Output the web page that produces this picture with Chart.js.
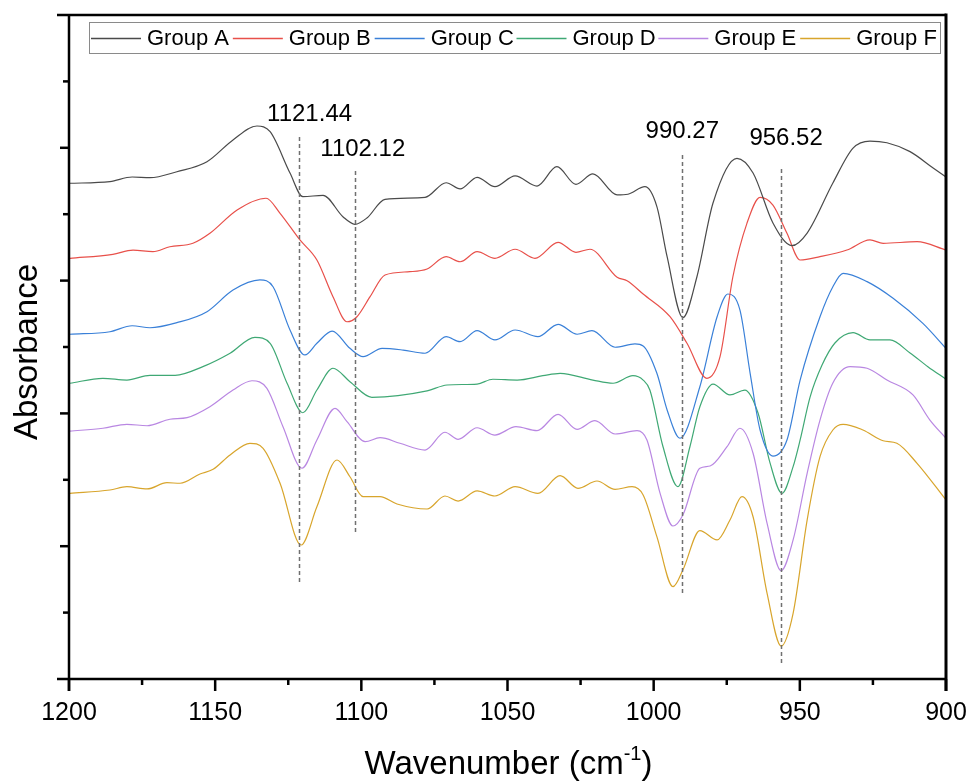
<!DOCTYPE html>
<html>
<head>
<meta charset="utf-8">
<script src="https://cdn.jsdelivr.net/npm/chart.js@4/dist/chart.umd.min.js"></script>
<style>
  html, body { margin: 0; padding: 0; background: #fff; }
  #wrap { width: 969px; height: 781px; position: relative; }
</style>
</head>
<body>
<div id="wrap"><canvas id="c" width="969" height="781"></canvas></div>
<script>
// ---------------- DATA ----------------
const seriesNames = ['Group A', 'Group B', 'Group C', 'Group D', 'Group E', 'Group F'];

const wnA = [1200.0,1186.0,1178.4,1172.3,1163.1,1152.8,1143.9,1135.7,1131.2,1124.4,1120.0,1113.1,1106.3,1102.2,1098.1,1091.9,1078.2,1071.0,1066.2,1060.4,1054.3,1047.4,1039.9,1033.1,1026.6,1020.8,1012.5,1008.8,1003.0,998.9,995.4,990.0,985.2,979.7,971.5,966.0,959.2,952.7,947.5,938.7,931.8,926.0,920.2,912.3,904.4,900.0];
const absA = [3.733,3.745,3.780,3.775,3.820,3.895,4.059,4.164,4.121,3.810,3.632,3.642,3.481,3.424,3.471,3.612,3.627,3.737,3.690,3.778,3.707,3.788,3.712,3.858,3.725,3.803,3.645,3.650,3.707,3.557,3.180,2.721,3.029,3.584,3.921,3.810,3.434,3.263,3.358,3.735,3.998,4.051,4.038,3.971,3.848,3.780];

const wnB = [1199.7,1185.0,1178.1,1171.3,1165.5,1157.6,1151.8,1142.5,1132.6,1127.8,1121.0,1115.2,1109.7,1104.9,1101.5,1097.0,1091.9,1083.4,1077.5,1071.0,1066.2,1060.4,1054.3,1047.4,1040.6,1032.7,1026.6,1021.8,1012.5,1009.1,1003.6,994.4,988.6,981.8,977.3,972.9,968.1,963.6,959.2,954.4,949.9,943.1,933.9,926.0,921.5,909.9,900.0];
const absB = [3.168,3.198,3.230,3.218,3.255,3.281,3.356,3.532,3.620,3.507,3.306,3.155,2.879,2.690,2.728,2.879,3.042,3.067,3.087,3.180,3.142,3.218,3.168,3.236,3.168,3.288,3.213,3.236,3.025,2.999,2.899,2.728,2.528,2.264,2.427,3.029,3.431,3.627,3.569,3.356,3.155,3.180,3.230,3.306,3.281,3.293,3.230];

const wnC = [1199.7,1186.0,1178.4,1172.3,1163.1,1152.8,1143.9,1134.7,1130.2,1124.4,1119.3,1115.2,1110.0,1103.9,1099.4,1092.9,1085.7,1078.2,1071.0,1066.2,1060.4,1054.3,1047.4,1039.6,1032.7,1026.2,1021.1,1013.2,1006.4,1003.6,998.9,995.4,991.0,984.2,978.3,974.6,970.5,967.0,963.6,959.2,954.4,949.9,943.1,938.7,935.2,927.0,918.1,907.9,900.0];
const absC = [2.596,2.615,2.660,2.645,2.683,2.766,2.929,3.005,2.954,2.628,2.440,2.528,2.620,2.490,2.427,2.490,2.477,2.453,2.578,2.540,2.623,2.553,2.628,2.578,2.671,2.596,2.623,2.498,2.523,2.508,2.302,2.026,1.813,2.201,2.728,2.899,2.779,2.302,1.875,1.679,1.800,2.251,2.728,2.954,3.055,2.992,2.867,2.678,2.490];

const wnD = [1199.7,1188.4,1180.2,1172.3,1163.7,1154.2,1144.9,1136.4,1131.2,1125.4,1120.0,1115.2,1109.7,1103.9,1096.4,1077.5,1070.7,1060.4,1055.0,1046.7,1037.9,1032.0,1020.8,1013.9,1007.1,1003.6,1001.3,996.8,991.7,987.6,984.2,979.7,973.9,968.8,964.3,960.2,956.1,952.3,949.9,946.5,942.4,938.0,931.8,926.0,919.2,912.3,906.2,900.0];
const absD = [2.227,2.264,2.251,2.287,2.287,2.352,2.453,2.573,2.528,2.227,2.005,2.176,2.340,2.239,2.121,2.169,2.214,2.221,2.257,2.251,2.284,2.302,2.251,2.227,2.284,2.251,2.176,1.749,1.448,1.749,2.050,2.221,2.139,2.176,2.003,1.627,1.398,1.599,1.800,2.123,2.364,2.530,2.608,2.553,2.553,2.455,2.352,2.257];

const wnE = [1199.7,1188.4,1180.2,1173.3,1165.5,1159.6,1151.8,1143.9,1137.4,1132.3,1126.8,1120.3,1115.2,1109.0,1104.9,1098.7,1093.6,1086.8,1078.2,1071.4,1066.9,1060.4,1054.3,1047.1,1039.9,1032.7,1026.2,1020.1,1013.2,1005.7,1002.3,997.8,993.4,990.0,984.2,980.7,974.9,970.5,966.0,961.2,956.4,952.3,947.5,943.1,938.7,932.8,927.0,920.2,911.3,905.5,900.0];
const absE = [1.867,1.888,1.918,1.907,1.956,1.968,2.050,2.176,2.246,2.189,1.900,1.587,1.800,2.038,1.938,1.787,1.817,1.775,1.724,1.858,1.805,1.892,1.837,1.900,1.870,1.993,1.880,1.945,1.845,1.870,1.800,1.398,1.152,1.235,1.587,1.604,1.749,1.888,1.700,1.172,0.816,1.047,1.549,1.950,2.229,2.352,2.340,2.251,2.139,1.950,1.813];

const wnF = [1199.7,1186.0,1180.2,1173.3,1166.5,1162.0,1155.2,1150.7,1144.9,1138.1,1133.6,1127.8,1120.6,1115.2,1108.3,1103.9,1099.4,1093.6,1087.8,1077.5,1071.4,1066.9,1060.4,1054.3,1047.4,1039.6,1032.0,1025.9,1019.4,1013.2,1007.4,1003.6,998.9,993.4,990.0,984.2,978.3,973.9,969.8,966.0,961.2,956.4,952.3,947.5,943.1,938.7,935.2,928.4,921.5,916.8,909.9,900.0];
const absF = [1.398,1.423,1.448,1.431,1.478,1.474,1.544,1.579,1.687,1.775,1.737,1.474,1.009,1.297,1.649,1.523,1.373,1.373,1.318,1.280,1.378,1.340,1.416,1.378,1.448,1.398,1.531,1.436,1.491,1.428,1.448,1.386,1.072,0.695,0.821,1.117,1.047,1.197,1.373,1.222,0.645,0.248,0.495,1.197,1.674,1.875,1.918,1.875,1.794,1.775,1.624,1.348];

const xTickValues = [1200, 1150, 1100, 1050, 1000, 950, 900];
const peakPositions = [1121.44, 1102.12, 990.27, 956.52];
const peakLabels = ['1121.44', '1102.12', '990.27', '956.52'];

// ---------------- STYLE / LAYOUT ----------------
const colors = ['#4a4a4a', '#e8504a', '#3a80d8', '#3fa874', '#b987e2', '#d8a52c'];
const FONT = '"Liberation Sans", Arial, sans-serif';
// vertical extents of marker lines and label baselines (y-axis units)
const peakLineTop = [4.081, 3.825, 3.946, 3.840];
const peakLineBottom = [0.723, 1.092, 0.648, 0.105];
const peakLabelBase = [4.202, 3.938, 4.076, 4.021];
const peakLabelX = [1117.7, 1099.5, 990.2, 954.7];

function toPoints(xs, ys) { return xs.map((x, i) => ({ x: x, y: ys[i] })); }
const allX = [wnA, wnB, wnC, wnD, wnE, wnF];
const allY = [absA, absB, absC, absD, absE, absF];

const datasets = seriesNames.map((name, i) => ({
  label: name,
  data: toPoints(allX[i], allY[i]),
  borderColor: colors[i],
  backgroundColor: colors[i],
  borderWidth: 1.2,
  pointRadius: 0,
  cubicInterpolationMode: 'monotone',
  fill: false
}));

const decorPlugin = {
  id: 'decor',
  afterDatasetsDraw(chart) {
    const ctx = chart.ctx;
    const xs = chart.scales.x, ys = chart.scales.y;
    const a = chart.chartArea;
    ctx.save();

    // peak marker lines
    ctx.strokeStyle = '#707070';
    ctx.lineWidth = 1.5;
    ctx.setLineDash([4, 3]);
    peakPositions.forEach((p, i) => {
      const x = Math.round(xs.getPixelForValue(p)) + 0.5;
      ctx.beginPath();
      ctx.moveTo(x, ys.getPixelForValue(peakLineTop[i]));
      ctx.lineTo(x, ys.getPixelForValue(peakLineBottom[i]));
      ctx.stroke();
    });
    ctx.setLineDash([]);

    // peak labels
    ctx.fillStyle = '#000';
    ctx.font = '24px ' + FONT;
    ctx.textAlign = 'center';
    ctx.textBaseline = 'alphabetic';
    peakLabels.forEach((t, i) => {
      ctx.fillText(t, xs.getPixelForValue(peakLabelX[i]), ys.getPixelForValue(peakLabelBase[i]));
    });

    // frame
    ctx.strokeStyle = '#000';
    ctx.lineWidth = 2.5;
    ctx.beginPath();
    ctx.moveTo(a.left - 12, a.top); ctx.lineTo(a.right, a.top);
    ctx.moveTo(a.left - 12, a.bottom); ctx.lineTo(a.right, a.bottom);
    ctx.moveTo(a.left, a.top); ctx.lineTo(a.left, a.bottom + 12);
    ctx.stroke();
    ctx.lineWidth = 3;
    ctx.beginPath();
    ctx.moveTo(a.right, a.top - 1.5); ctx.lineTo(a.right, a.bottom + 12);
    ctx.stroke();

    // y ticks (major every 1, minor every 0.5)
    ctx.lineWidth = 2.5;
    for (let v = 0.5; v < 5; v += 0.5) {
      const y = ys.getPixelForValue(v);
      const len = (Math.abs(v - Math.round(v)) < 1e-6) ? 9 : 6;
      ctx.beginPath();
      ctx.moveTo(a.left - len, y); ctx.lineTo(a.left, y);
      ctx.stroke();
    }
    // x ticks (major every 50, minor every 25)
    for (let v = 900; v <= 1200; v += 25) {
      const x = xs.getPixelForValue(v);
      const len = (v % 50 === 0) ? 12 : 6;
      ctx.beginPath();
      ctx.moveTo(x, a.bottom); ctx.lineTo(x, a.bottom + len);
      ctx.stroke();
    }

    // legend
    const lx0 = 89, lx1 = 940, ly0 = 22, ly1 = 53;
    ctx.fillStyle = '#fff';
    ctx.fillRect(lx0, ly0, lx1 - lx0, ly1 - ly0);
    ctx.strokeStyle = '#8a8a8a';
    ctx.lineWidth = 1;
    ctx.strokeRect(lx0 + 0.5, ly0 + 0.5, lx1 - lx0, ly1 - ly0);
    ctx.font = '22px ' + FONT;
    ctx.textAlign = 'left';
    ctx.textBaseline = 'middle';
    const itemW = (lx1 - lx0) / seriesNames.length;
    const ly = (ly0 + ly1) / 2 + 1;
    chart.data.datasets.forEach((ds, i) => {
      const bx = lx0 + 2 + i * itemW;
      ctx.strokeStyle = colors[i];
      ctx.lineWidth = 1.6;
      ctx.beginPath();
      ctx.moveTo(bx, Math.round(ly) - 0.5); ctx.lineTo(bx + 50, Math.round(ly) - 0.5);
      ctx.stroke();
      ctx.fillStyle = '#000';
      ctx.fillText(ds.label, bx + 56, ly);
    });

    // axis titles
    ctx.fillStyle = '#000';
    ctx.font = '33px ' + FONT;
    ctx.save();
    ctx.translate(37, (a.top + a.bottom) / 2 + 5);
    ctx.rotate(-Math.PI / 2);
    ctx.textAlign = 'center';
    ctx.textBaseline = 'alphabetic';
    ctx.fillText('Absorbance', 0, 0);
    ctx.restore();

    const t1 = 'Wavenumber (cm', t2 = '-1', t3 = ')';
    ctx.font = '33px ' + FONT;
    const w1 = ctx.measureText(t1).width;
    const w3 = ctx.measureText(t3).width;
    ctx.font = '20px ' + FONT;
    const w2 = ctx.measureText(t2).width;
    const total = w1 + w2 + w3;
    const cx = (a.left + a.right) / 2 + 1;
    let x = cx - total / 2;
    const base = 774;
    ctx.textAlign = 'left';
    ctx.textBaseline = 'alphabetic';
    ctx.font = '33px ' + FONT;
    ctx.fillText(t1, x, base); x += w1;
    ctx.font = '20px ' + FONT;
    ctx.fillText(t2, x, base - 14); x += w2;
    ctx.font = '33px ' + FONT;
    ctx.fillText(t3, x, base);
    ctx.restore();
  }
};

new Chart(document.getElementById('c'), {
  type: 'line',
  data: { datasets: datasets },
  options: {
    responsive: false,
    animation: false,
    devicePixelRatio: 1,
    parsing: true,
    layout: { padding: { left: 69, right: 23, top: 15, bottom: 0 } },
    plugins: { legend: { display: false }, tooltip: { enabled: false } },
    scales: {
      x: {
        type: 'linear',
        reverse: true,
        min: 900,
        max: 1200,
        grid: { display: false, drawTicks: false },
        border: { display: false },
        afterFit(scale) { scale.height = 102; scale.paddingLeft = 0; scale.paddingRight = 0; },
        afterBuildTicks(scale) { scale.ticks = xTickValues.map(v => ({ value: v })); },
        ticks: {
          color: '#000',
          padding: 19,
          maxRotation: 0,
          font: { size: 25, family: FONT },
          callback: (v) => String(v)
        }
      },
      y: {
        type: 'linear',
        display: false,
        min: 0,
        max: 5
      }
    }
  },
  plugins: [decorPlugin]
});
</script>
</body>
</html>
